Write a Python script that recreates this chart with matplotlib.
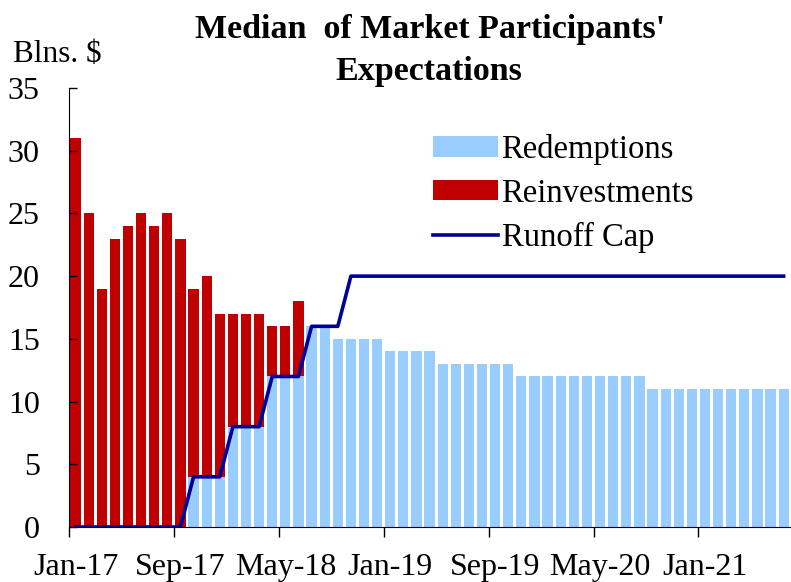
import numpy as np
import matplotlib
matplotlib.use("Agg")
import matplotlib.pyplot as plt

plt.rcParams['font.family'] = ['Liberation Serif', 'DejaVu Serif']

# monthly, Jan-17 .. Jul-21
redemptions = [0, 0, 0, 0, 0, 0, 0, 0, 0,
               4, 4, 4,
               8, 8, 8,
               12, 12, 12,
               16, 16,
               15, 15, 15, 15,
               14, 14, 14, 14,
               13, 13, 13, 13, 13, 13,
               12, 12, 12, 12, 12, 12, 12, 12, 12, 12,
               11, 11, 11, 11, 11, 11, 11, 11, 11, 11, 11]
reinvestments = [31, 25, 19, 23, 24, 25, 24, 25, 23,
                 15, 16, 13,
                 9, 9, 9,
                 4, 4, 6,
                 0, 0,
                 0, 0, 0, 0,
                 0, 0, 0, 0,
                 0, 0, 0, 0, 0, 0,
                 0, 0, 0, 0, 0, 0, 0, 0, 0, 0,
                 0, 0, 0, 0, 0, 0, 0, 0, 0, 0, 0]
runoff_cap = [0, 0, 0, 0, 0, 0, 0, 0, 0,
              4, 4, 4,
              8, 8, 8,
              12, 12, 12,
              16, 16, 16,
              20, 20, 20,
              20, 20, 20, 20, 20, 20, 20, 20, 20, 20,
              20, 20, 20, 20, 20, 20, 20, 20, 20, 20,
              20, 20, 20, 20, 20, 20, 20, 20, 20, 20, 20]
tick_labels = ["Jan-17", "Sep-17", "May-18", "Jan-19", "Sep-19", "May-20", "Jan-21"]

x = np.arange(len(redemptions))

fig = plt.figure(figsize=(7.91, 5.82), dpi=100)
ax = fig.add_axes([0.0872, 0.0945, 0.9118, 0.7543])

ax.bar(x, redemptions, width=0.78, color="#99CCFF", label="Redemptions")
ax.bar(x, reinvestments, width=0.78, bottom=redemptions, color="#C00000", label="Reinvestments")
ax.plot(x, runoff_cap, color="#000099", lw=2.6, label="Runoff Cap")

ax.set_xlim(-0.5, len(x) - 0.5)
ax.set_ylim(0, 35)
ax.set_yticks(range(0, 36, 5))
ax.tick_params(axis="y", direction="in", length=6, width=1, labelsize=23, pad=21)

ax.set_xticks(np.arange(-0.5, len(x), 8))
ax.set_xticklabels([])
ax.tick_params(axis="x", which="major", direction="out", length=7, width=1)
ax.set_xticks(np.arange(0, len(x), 8), minor=True)
ax.set_xticklabels(tick_labels, minor=True)
ax.tick_params(axis="x", which="minor", length=0, labelsize=23, pad=19)

for s in ["top", "right"]:
    ax.spines[s].set_visible(False)

handles, labels = ax.get_legend_handles_labels()
order = [1, 2, 0]
ax.legend([handles[i] for i in order], [labels[i] for i in order],
          loc="upper left", bbox_to_anchor=(433 / 791, 1 - 134 / 582),
          bbox_transform=fig.transFigure, frameon=False, fontsize=23.5,
          borderpad=0, handlelength=2.0, handleheight=0.6,
          handletextpad=0.1, labelspacing=0.4, borderaxespad=0)

fig.text(430 / 791, 1 - 38 / 582, "Median  of Market Participants'",
         ha="center", va="baseline", fontsize=24.5, fontweight="bold")
fig.text(429 / 791, 1 - 80 / 582, "Expectations",
         ha="center", va="baseline", fontsize=24.5, fontweight="bold")
fig.text(13 / 791, 1 - 62 / 582, "Blns. $", ha="left", va="baseline", fontsize=22.5)

fig.savefig("out.png", dpi=100)
